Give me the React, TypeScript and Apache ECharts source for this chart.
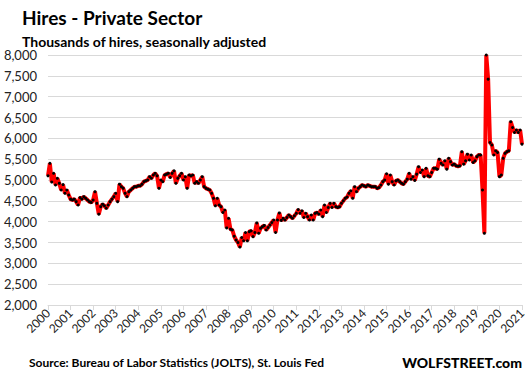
import React, { useEffect, useRef } from "react";
import * as echarts from "echarts";

// Private sector hires, thousands, SA — Dec 2000 then monthly by year
const firstYear = 2000;
const v2000 = [5100];
const v2001 = [5400, 4950, 5160, 4880, 5040, 4920, 4760, 4890, 4680, 4760, 4640, 4540];
const v2002 = [4520, 4540, 4480, 4400, 4580, 4540, 4600, 4560, 4520, 4480, 4460, 4520];
const v2003 = [4720, 4440, 4180, 4360, 4420, 4380, 4320, 4400, 4480, 4540, 4600, 4680];
const v2004 = [4480, 4900, 4840, 4800, 4680, 4600, 4720, 4760, 4800, 4840, 4840, 4860];
const v2005 = [4860, 4900, 4960, 4980, 5000, 5080, 5040, 5120, 5160, 5100, 4800, 5000];
const v2006 = [4960, 5120, 5140, 5160, 5060, 5160, 5220, 4920, 5040, 5100, 5160, 5000];
const v2007 = [5080, 4800, 5120, 5100, 5120, 4920, 4960, 4920, 5000, 5080, 4840, 4800];
const v2008 = [4780, 4760, 4680, 4560, 4380, 4560, 4400, 4360, 4220, 4280, 3850, 4080];
const v2009 = [3820, 3800, 3650, 3560, 3500, 3390, 3620, 3540, 3740, 3540, 3760, 3780];
const v2010 = [3640, 3740, 3970, 3720, 3840, 3880, 3910, 3800, 3860, 3920, 3980, 4040];
const v2011 = [3740, 4040, 4210, 4030, 4080, 4040, 4100, 4160, 4120, 4080, 4140, 4200];
const v2012 = [4290, 4200, 4260, 4100, 4200, 4120, 4040, 4160, 4040, 4200, 4220, 4180];
const v2013 = [4280, 4120, 4400, 4220, 4340, 4440, 4340, 4440, 4360, 4340, 4360, 4440];
const v2014 = [4500, 4560, 4590, 4680, 4740, 4560, 4840, 4720, 4800, 4840, 4880, 4860];
const v2015 = [4840, 4880, 4860, 4840, 4840, 4840, 4800, 4820, 4880, 4960, 5000, 5150];
const v2016 = [4900, 5120, 4960, 4880, 4980, 5000, 4960, 4920, 4900, 4960, 5020, 5160];
const v2017 = [5020, 5080, 4990, 5140, 5320, 5180, 5240, 5080, 5280, 5100, 5080, 5180];
const v2018 = [5280, 5280, 5260, 5500, 5400, 5360, 5460, 5260, 5520, 5440, 5360, 5380];
const v2019 = [5340, 5330, 5340, 5680, 5380, 5460, 5620, 5480, 5600, 5420, 5460, 5560];
const v2020 = [5600, 5600, 4760, 3720, 8000, 7420, 5900, 5840, 5600, 5700, 5660, 5080];
const v2021 = [5120, 5520, 5640, 5680, 5700, 6400, 6260, 6140, 6200, 6140, 6200, 5860];

const yearly = [
  v2001, v2002, v2003, v2004, v2005, v2006, v2007, v2008, v2009, v2010, v2011,
  v2012, v2013, v2014, v2015, v2016, v2017, v2018, v2019, v2020, v2021,
];

const titleText = "Hires - Private Sector";
const subtitleText = "Thousands of hires, seasonally adjusted";
const sourceText = "Source: Bureau of Labor Statistics (JOLTS), St. Louis Fed";
const brandText = "WOLFSTREET.com";

const categories: string[] = [`${firstYear}-12`];
const values: number[] = [...v2000];
yearly.forEach((arr, k) => {
  arr.forEach((v, m) => {
    categories.push(`${firstYear + 1 + k}-${String(m + 1).padStart(2, "0")}`);
    values.push(v);
  });
});

const FONT = "Lato, 'Open Sans', sans-serif";

export default function App() {
  const ref = useRef<HTMLDivElement>(null);
  useEffect(() => {
    if (!ref.current) return;
    const chart = echarts.init(ref.current, undefined, { renderer: "svg" });
    chart.setOption({
      animation: false,
      backgroundColor: "#ffffff",
      textStyle: { fontFamily: FONT },
      title: [
        {
          text: titleText,
          left: 17,
          top: 3,
          textStyle: { fontFamily: FONT, fontSize: 19, fontWeight: "bold", color: "#000" },
        },
        {
          text: subtitleText,
          left: 17,
          top: 29,
          textStyle: { fontFamily: FONT, fontSize: 14, fontWeight: "bold", color: "#000" },
        },
        {
          text: sourceText,
          left: 24,
          top: 351,
          textStyle: { fontFamily: FONT, fontSize: 12, fontWeight: "bold", color: "#000" },
        },
        {
          text: brandText,
          right: 5,
          top: 350,
          textStyle: { fontFamily: FONT, fontSize: 14, fontWeight: 900, color: "#000" },
        },
      ],
      grid: { left: 48, right: 10, top: 55, bottom: 72, containLabel: false },
      xAxis: {
        type: "category",
        data: categories,
        boundaryGap: false,
        axisLine: { lineStyle: { color: "#d9d9d9", width: 1 } },
        axisTick: { show: true, interval: 11, length: 5, lineStyle: { color: "#d9d9d9" } },
        axisLabel: {
          interval: 11,
          rotate: 45,
          margin: 6,
          fontFamily: FONT,
          fontSize: 12,
          color: "#222",
          formatter: (v: string) => v.slice(0, 4),
        },
        splitLine: { show: false },
      },
      yAxis: {
        type: "value",
        min: 2000,
        max: 8000,
        interval: 500,
        axisLine: { show: false },
        axisTick: { show: false },
        axisLabel: {
          margin: 11,
          fontFamily: FONT,
          fontSize: 13,
          color: "#222",
          formatter: (v: number) => v.toLocaleString("en-US"),
        },
        splitLine: { lineStyle: { color: "#d9d9d9", width: 1 } },
      },
      series: [
        {
          type: "line",
          data: values,
          showAllSymbol: true,
          symbol: "circle",
          symbolSize: 3,
          lineStyle: { color: "#ff0000", width: 4 },
          itemStyle: { color: "#000000", borderWidth: 0 },
        },
      ],
    });
    return () => chart.dispose();
  }, []);
  return (
    <div
      ref={ref}
      style={{ position: "fixed", left: 0, top: 0, width: 532, height: 377, background: "#fff" }}
    />
  );
}
